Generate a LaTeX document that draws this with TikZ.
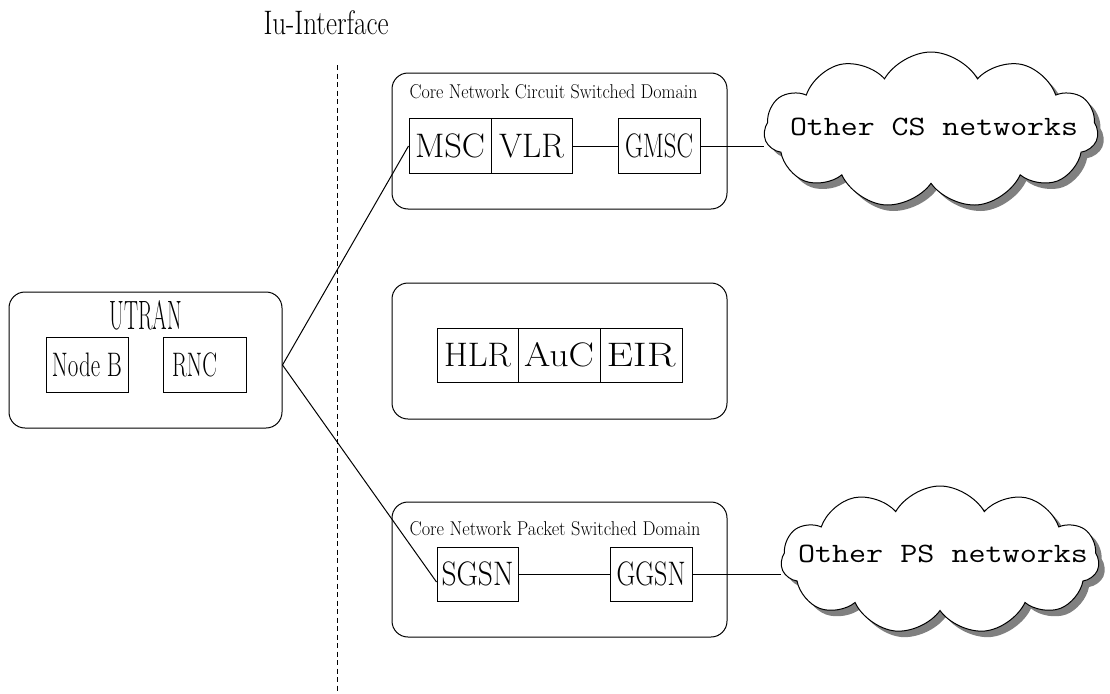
\documentclass[tikz,border=0pt]{standalone}
\usepackage{fontspec}
\usepackage{graphicx}
\usetikzlibrary{shapes.symbols,shadows,calc,backgrounds}
% text squeezed or stretched to a given width, keeping its natural height
\newcommand\fitto[3]{\resizebox{#1pt}{\height}{\fontsize{#2pt}{#2pt}\selectfont #3}}
\newcommand\fitmono[3]{\resizebox{#1pt}{\height}{\fontsize{#2pt}{#2pt}\selectfont\ttfamily #3}}

\begin{document}
\begin{tikzpicture}[x=1pt,y=-1pt,line width=1pt,
  container/.style={draw,rounded corners=16pt,inner sep=0pt},
  unit/.style={draw,minimum width=82pt,minimum height=55pt,inner sep=0pt},
  lbl/.style={inner sep=0pt,anchor=base west},
  clbl/.style={inner sep=0pt,anchor=base},
  netcloud/.style={cloud,cloud puffs=11,cloud puff arc=120,aspect=2.2,draw,fill=white,inner sep=0pt,
    drop shadow={shadow xshift=6pt,shadow yshift=-6pt,fill=black!50,opacity=1}}]

\useasboundingbox (0,0) rectangle (1110,693);

% Iu interface marker
\node[lbl] (iu) at (263,35) {\fitto{125}{34}{Iu-Interface}};
\coordinate (iutop) at (337,65);
\coordinate (iubot) at (337,693);
\draw[dash pattern=on 5pt off 3.5pt] (iutop) -- (iubot);

% radio access network
\node[container,minimum width=273pt,minimum height=136pt] (utran) at (145.5,360) {};
\node[clbl] (utranlbl) at (146,329) {\fitto{72}{41}{UTRAN}};
\node[unit] (nodeb) at (87,364.5) {\fitto{70}{34}{Node B}};
\node[unit,minimum width=83pt] (rnc) at (204.5,364.5) {\fitto{45}{34}{RNC}\hspace*{20pt}};

% circuit switched core
\node[container,minimum width=335pt,minimum height=136pt] (cs) at (559.5,141) {};
\node[lbl] (cslbl) at (409,98) {\fitto{288}{20}{Core Network Circuit Switched Domain}};
\node[unit] (msc) at (450,146) {\fitto{70}{34}{MSC}};
\node[unit,minimum width=81pt] (vlr) at (531.5,146) {\fitto{65}{34}{VLR}};
\node[unit] (gmsc) at (659,146) {\fitto{68}{34}{GMSC}};

% registers
\node[container,minimum width=335pt,minimum height=136pt] (reg) at (559.5,351) {};
\node[unit,minimum width=81pt,minimum height=54pt] (hlr) at (477.5,355) {\fitto{67}{34}{HLR}};
\node[unit,minimum height=54pt] (auc) at (559,355) {\fitto{70}{34}{AuC}};
\node[unit,minimum height=54pt] (eir) at (641,355) {\fitto{69}{34}{EIR}};

% packet switched core
\node[container,minimum width=335pt,minimum height=135pt] (ps) at (559.5,569.5) {};
\node[lbl] (pslbl) at (409,535) {\fitto{291}{20}{Core Network Packet Switched Domain}};
\node[unit,minimum width=81pt,minimum height=54pt] (sgsn) at (477.5,574) {\fitto{72}{34}{SGSN}};
\node[unit,minimum height=54pt] (ggsn) at (651,574) {\fitto{69}{34}{GGSN}};

% external networks
\node[netcloud,minimum width=334pt,minimum height=156pt] (cscloud) at (931,130) {};
\node[clbl] (cstext) at (934,135) {\fitmono{288}{28}{Other CS networks}};
\node[netcloud,minimum width=318pt,minimum height=148pt] (pscloud) at (940,560) {};
\node[clbl] (pstext) at (943,562) {\fitmono{290}{28}{Other PS networks}};

% links
\coordinate (iuj) at ($(utran.east)+(0,5)$);
\draw (iuj) -- (msc.west);
\draw (iuj) -- ($(sgsn.west)+(0,8)$);
\draw (vlr.east) -- (gmsc.west);
\draw (sgsn.east) -- (ggsn.west);
\begin{scope}[on background layer]
  \draw (gmsc.east) -- (gmsc.east -| cscloud.west);
  \draw (ggsn.east) -- (ggsn.east -| pscloud.west);
\end{scope}
\end{tikzpicture}
\end{document}
